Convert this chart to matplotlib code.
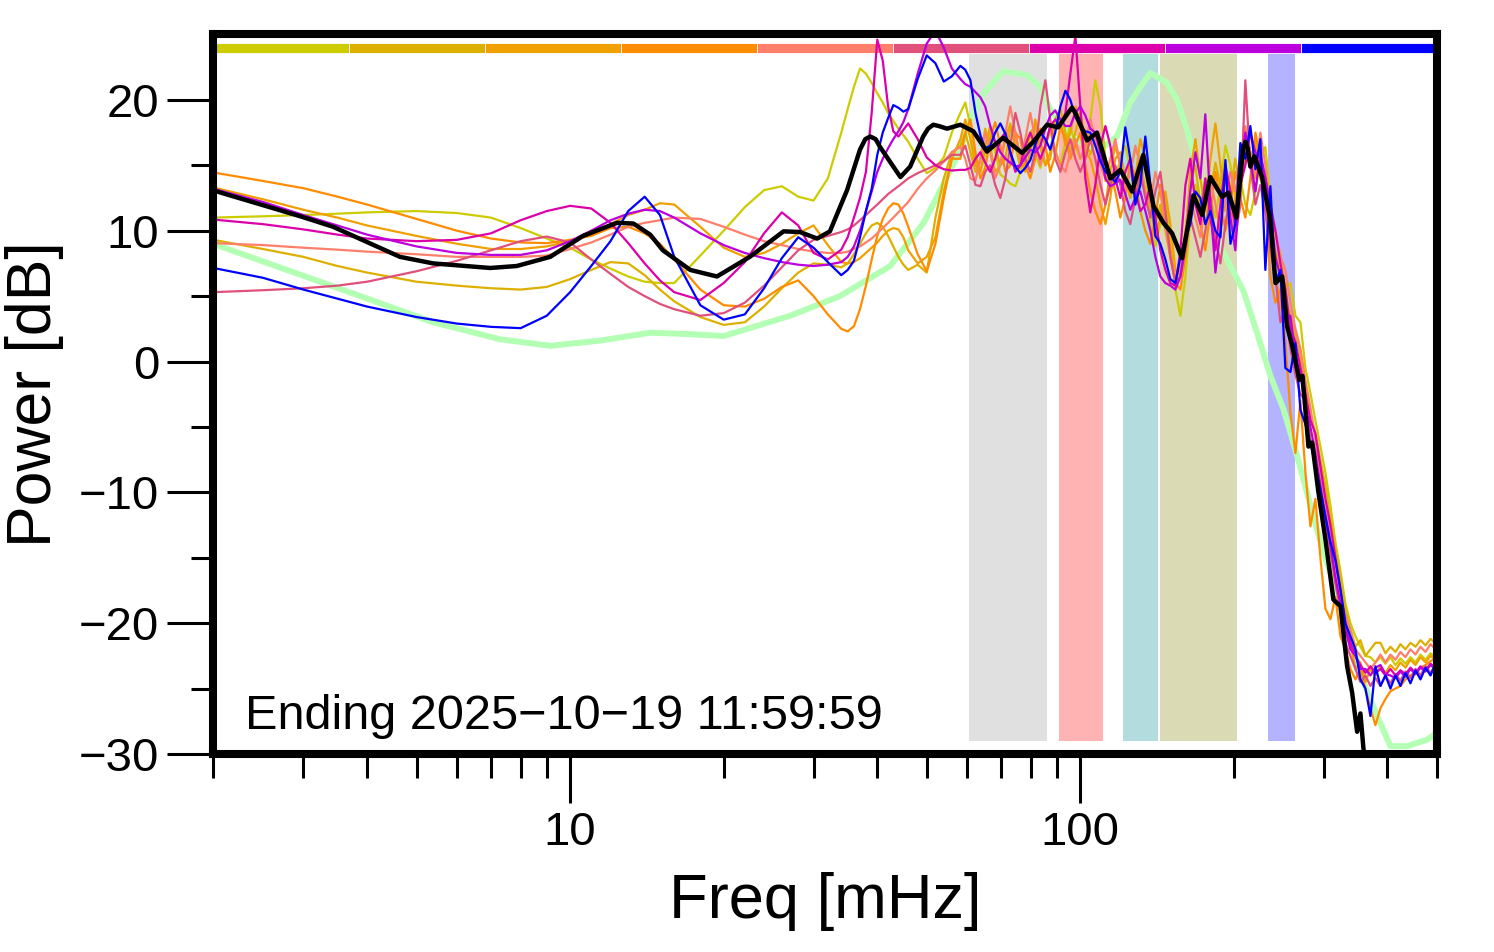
#!/usr/bin/env python3
# -*- coding: utf-8 -*-

"""
plot.py

Power spectra (dB) of nine consecutive segments, their mean (black) and a
reference spectrum (light green), on a log frequency axis in mHz.
Shaded bands mark frequency windows; the strip at the top gives the colour
of each segment.
"""

import numpy as np
import matplotlib
matplotlib.use("Agg")
import matplotlib.pyplot as plt
from matplotlib.patches import Rectangle
from matplotlib.ticker import FixedLocator, NullFormatter, LogLocator


# ---------------------------------------------------------------- data
# shared frequency grid (mHz) of the nine segment spectra
FREQ_LOW = [2, 2.5, 3, 3.5, 4, 5, 6, 7, 8, 9,
            10, 11, 12, 13, 14, 15, 16, 18, 20, 22,
            24, 26, 28, 30, 32, 34, 35, 36, 37, 38,
            39, 40, 41, 42, 43, 44, 45, 46, 48, 50,
            52, 54, 56]
FREQ_MID = [58.2, 59.5, 60.9, 62.3, 63.7, 65.1, 66.6, 68.1, 69.7, 71.3,
            72.9, 74.6, 76.3, 78.0, 79.8, 81.6, 83.5, 85.4, 87.3, 89.3,
            91.4, 93.5, 95.6, 97.8, 100.0, 102.3, 104.6, 107.0, 109.5, 112.0,
            114.5, 117.1, 119.8, 122.5, 125.3, 128.2, 131.1, 134.1, 137.2, 140.3,
            143.5, 146.8, 150.1, 153.6, 157.1, 160.7, 164.3, 168.1, 171.9, 175.8,
            179.9, 184.0, 188.2, 192.5, 196.9, 201.3, 205.9, 210.6, 215.4, 220.4,
            225.4, 230.5, 235.8, 241.2, 246.7, 252.3, 258.1, 264.0, 270.0, 276.2,
            282.5, 288.9, 295.5, 302.3, 309.2, 316.2, 323.5, 330.8, 338.4, 346.1,
            354.0, 362.1, 370.4]
FREQ_TAIL = [378.8, 387.5, 396.3, 405.4, 414.7, 424.1, 433.8, 443.7, 453.9, 464.2,
             474.9, 485.7, 496.8, 500.0]

SEG_COLORS = ["#cccc00", "#ddb000", "#f0a000", "#ff8c00", "#ff7f6a",
              "#e0507a", "#dd00aa", "#bb00dd", "#0000ff"]

# segment spectra, dB (low part / mid part / tail)
SEG1 = ([11.0, 11.1, 11.2, 11.3, 11.4, 11.5, 11.35, 11.0, 10.2, 9.4,
         8.7, 7.8, 7.1, 6.5, 6.1, 6.0, 6.0, 8.1, 10.0, 11.8,
         13.1, 13.4, 12.6, 12.3, 14.0, 17.5, 19.3, 21.0, 22.4, 22.0,
         21.3, 20.5, 19.8, 19.0, 18.4, 17.8, 17.3, 16.8, 15.5, 14.4,
         14.8, 15.6, 17.5],
        [19.0, 19.8, 18.0, 15.5, 14.5, 15.8, 17.5, 16.0, 14.3, 14.0,
         13.6, 13.4, 14.5, 16.8, 17.5, 15.8, 14.8, 16.5, 17.6, 16.2,
         15.0, 16.8, 18.0, 16.5, 15.5, 16.0, 18.5, 21.5, 19.5, 15.5,
         13.0, 14.0, 15.5, 16.5, 14.8, 12.5, 13.8, 15.0, 10.5, 8.8,
         10.5, 12.5, 9.0, 5.5, 3.5, 6.5, 11.0, 13.5, 12.0, 14.0,
         12.5, 11.0, 13.5, 16.5, 15.0, 12.5, 14.0, 12.0, 11.2, 13.0,
         15.5, 16.4, 12.5, 9.5, 8.3, 5.5, 6.0, 3.5, 3.0, -0.5,
         -2.4, -4.5, -6.5, -8.5, -11.0, -13.8, -16.0, -18.5, -20.0, -21.0,
         -21.8, -22.5, -22.6],
        [-23.0, -22.6, -23.1, -22.6, -23.2, -22.7, -23.1, -22.6, -23.0, -22.4,
         -22.8, -22.3, -22.6, -22.4])
SEG2 = ([9.3, 8.6, 8.0, 7.3, 6.8, 6.1, 5.8, 5.6, 5.5, 5.7,
         6.3, 7.0, 7.6, 7.5, 6.6, 5.5, 4.6, 3.4, 2.8, 3.0,
         4.2, 5.6, 6.8, 7.5, 7.4, 7.2, 7.5, 8.2, 9.0, 9.8,
         10.4, 10.6, 10.3, 9.6, 8.8, 8.0, 7.4, 7.0, 7.4, 6.8,
         11.0, 14.0, 16.0],
        [16.5, 17.5, 16.0, 14.5, 15.5, 17.8, 16.5, 14.5, 15.0, 17.0,
         18.2, 16.5, 14.8, 15.2, 17.5, 18.0, 16.3, 15.0, 16.0, 18.5,
         19.3, 17.5, 16.0, 17.5, 19.0, 17.0, 15.8, 17.0, 16.0, 13.8,
         14.5, 16.5, 15.0, 13.0, 14.5, 16.2, 15.5, 13.0, 11.5, 10.5,
         12.0, 10.0, 8.0, 6.0, 7.5, 10.0, 13.5, 15.0, 12.0, 10.5,
         13.0, 15.2, 13.5, 11.5, 13.0, 15.5, 13.0, 16.0, 15.0, 16.8,
         14.0, 12.5, 10.0, 8.5, 7.0, 5.0, 3.5, 2.0, 0.5, -2.0,
         -4.0, -5.5, -7.5, -9.5, -12.0, -14.5, -16.5, -19.0, -20.5, -21.8,
         -21.3, -22.5, -22.0],
        [-21.5, -21.5, -22.3, -21.8, -22.2, -21.6, -22.0, -21.5, -21.8, -21.3,
         -21.7, -21.2, -21.5, -21.1])
SEG3 = ([13.3, 12.4, 11.6, 11.0, 10.4, 9.6, 9.0, 8.6, 8.6, 8.8,
         9.2, 9.8, 10.5, 11.2, 11.6, 12.1, 12.0, 10.3, 8.7, 8.0,
         8.3, 9.0, 9.8, 10.4, 8.9, 7.6, 7.5, 7.6, 7.9, 8.3,
         8.7, 9.1, 9.6, 10.0, 10.2, 10.1, 9.5, 8.5, 7.5, 8.0,
         9.5, 13.0, 15.5],
        [17.0, 18.5, 17.0, 15.0, 14.5, 16.5, 18.0, 16.5, 15.0, 15.5,
         17.8, 17.5, 15.5, 14.5, 16.0, 18.5, 17.0, 15.0, 15.5, 18.0,
         18.5, 16.5, 17.5, 19.5, 18.0, 16.0, 15.5, 14.0, 12.0, 10.5,
         12.5, 15.5, 16.0, 14.0, 12.5, 14.0, 17.0, 15.5, 12.0, 9.5,
         11.0, 13.0, 10.5, 7.0, 6.5, 9.5, 14.5, 17.0, 14.0, 11.5,
         15.5, 18.2, 15.0, 12.0, 11.0, 12.5, 15.5, 17.5, 16.0, 14.0,
         16.0, 13.0, 9.5, 7.0, 4.0, 6.0, 2.0, 1.0, 0.0, -4.0,
         -6.0, -8.0, -9.0, -11.5, -14.5, -16.5, -18.5, -20.5, -21.5, -23.5,
         -23.0, -24.5, -23.5],
        [-24.0, -23.3, -23.8, -23.2, -23.6, -23.0, -23.4, -22.8, -23.2, -22.6,
         -23.0, -22.5, -22.8, -22.4])
SEG4 = ([14.45, 13.8, 13.25, 12.6, 12.0, 10.9, 10.0, 9.4, 9.1, 9.05,
         9.3, 9.6, 10.2, 10.3, 9.8, 9.0, 7.8, 5.5, 4.3, 4.2,
         4.8, 5.7, 6.2, 5.0, 3.6, 2.5, 2.3, 2.7, 4.0, 5.8,
         7.8, 9.6, 10.9, 11.7, 12.1, 12.0, 11.3, 10.3, 8.2, 6.9,
         9.0, 12.5, 15.5],
        [15.5, 17.5, 18.5, 16.0, 14.0, 14.8, 17.0, 18.3, 16.5, 14.5,
         15.0, 17.5, 17.0, 15.0, 14.0, 15.5, 17.8, 16.5, 14.5, 15.8,
         18.0, 17.0, 15.5, 16.5, 17.5, 15.0, 13.0, 11.5, 10.5, 12.0,
         14.5, 13.0, 11.0, 12.5, 15.5, 14.0, 11.5, 10.0, 9.0, 11.0,
         13.5, 11.5, 8.5, 6.0, 5.5, 8.0, 12.0, 13.0, 10.5, 8.5,
         11.5, 14.5, 12.5, 10.0, 12.0, 14.5, 12.5, 11.0, 14.0, 17.5,
         15.5, 12.0, 6.5, 4.5, 5.5, 1.5, -3.9, -7.0, -3.0, -8.5,
         -12.6, -10.5, -15.0, -18.9, -19.7, -18.0, -21.0, -22.0, -23.5, -24.3,
         -23.5, -25.0, -26.5],
        [-27.8, -26.5, -25.8, -25.2, -25.0, -24.8, -24.3, -24.0, -23.8, -23.4,
         -23.2, -22.9, -22.7, -22.6])
SEG5 = ([9.05, 8.9, 8.7, 8.55, 8.4, 8.2, 8.0, 8.0, 8.0, 8.1,
         8.6, 9.1, 9.7, 10.3, 10.6, 10.8, 11.0, 10.9, 10.3, 9.7,
         9.2, 8.9, 8.6, 8.4, 8.3, 8.3, 8.4, 8.6, 8.8, 9.1,
         9.4, 9.8, 10.2, 10.6, 11.0, 11.4, 11.8, 12.2, 13.2, 14.0,
         14.6, 15.3, 16.0],
        [16.4, 15.5, 14.0, 13.8, 15.5, 17.5, 16.0, 14.0, 15.0, 17.5,
         19.5, 17.5, 15.5, 17.0, 19.0, 17.0, 15.0, 16.5, 18.0, 16.0,
         15.0, 14.5, 16.0, 17.0, 15.5, 16.5, 18.5, 17.0, 15.0, 14.0,
         15.5, 17.0, 15.0, 13.0, 14.5, 16.5, 15.0, 13.0, 12.0, 14.5,
         13.0, 10.5, 8.0, 6.5, 7.0, 9.5, 12.5, 11.0, 9.5, 12.0,
         14.0, 12.0, 10.0, 12.5, 14.5, 13.0, 15.0, 18.0, 16.0, 14.5,
         17.5, 15.0, 11.5, 10.0, 8.0, 7.0, 4.5, 2.5, 1.0, -1.5,
         -3.5, -6.0, -8.5, -10.5, -13.5, -15.5, -18.0, -19.5, -20.5, -22.0,
         -22.5, -23.0, -23.5],
        [-23.0, -22.4, -23.0, -22.4, -22.8, -22.2, -22.6, -22.0, -22.4, -21.8,
         -22.2, -21.6, -22.0, -21.6])
SEG6 = ([5.3, 5.45, 5.6, 5.8, 6.1, 6.9, 7.7, 8.5, 9.2, 9.55,
         9.1, 7.8, 6.7, 5.7, 5.0, 4.4, 4.0, 3.5, 3.7, 4.5,
         5.8, 7.2, 8.5, 9.3, 9.6, 9.9, 10.1, 10.4, 10.8, 11.2,
         11.6, 12.0, 12.4, 12.8, 13.1, 13.4, 13.7, 14.0, 14.4, 14.7,
         15.0, 15.3, 15.8],
        [15.8, 16.5, 15.0, 13.5, 13.4, 14.5, 15.0, 13.5, 12.5, 14.0,
         16.5, 19.0, 17.5, 15.5, 14.5, 16.0, 19.5, 21.5, 18.5, 15.5,
         14.5, 16.0, 17.0, 15.5, 14.5, 15.5, 17.0, 15.5, 13.5, 12.0,
         13.5, 15.0, 13.5, 11.5, 10.5, 12.5, 14.5, 12.5, 11.0, 13.0,
         14.5, 11.5, 8.0, 6.0, 6.5, 8.5, 11.0, 9.5, 8.0, 10.0,
         12.5, 9.5, 7.5, 10.5, 13.0, 9.5, 12.0, 21.5, 15.0, 12.0,
         13.5, 11.5, 8.5, 6.5, 3.0, 4.0, 1.0, -1.0, -2.5, -3.0,
         -6.0, -8.0, -10.0, -12.0, -14.5, -17.0, -19.0, -21.5, -22.5, -23.5,
         -24.5, -24.0, -24.8],
        [-24.2, -24.8, -24.0, -24.6, -23.9, -24.4, -23.7, -24.2, -23.5, -24.0,
         -23.3, -23.8, -23.2, -23.5])
SEG7 = ([10.85, 10.5, 10.1, 9.7, 9.4, 9.2, 9.3, 9.8, 10.8, 11.5,
         11.9, 11.7, 10.6, 9.05, 7.5, 6.2, 5.3, 4.7, 6.0, 7.6,
         9.8, 11.4, 10.4, 8.3, 7.8, 8.55, 9.5, 11.0, 12.5, 14.5,
         19.0, 24.6, 23.0, 19.5, 17.6, 17.2, 17.7, 18.2, 17.0, 15.6,
         15.0, 14.7, 14.6],
        [14.65, 14.65, 14.8, 15.5, 16.0, 15.2, 14.5, 15.5, 17.0, 17.5,
         16.0, 14.5, 15.0, 16.5, 17.5, 16.5, 15.5, 16.5, 18.0, 18.5,
         18.0, 19.0, 22.0, 24.9, 19.5, 14.0, 11.4, 13.5, 16.5, 18.0,
         16.5, 14.0, 12.5, 14.5, 15.5, 13.0, 11.5, 12.0, 13.5, 11.0,
         8.5, 7.0, 6.0, 5.8, 8.5, 13.5, 15.5, 12.0, 10.5, 14.0,
         11.0, 8.5, 12.0, 15.0, 13.0, 10.5, 13.5, 15.0, 17.5, 16.0,
         15.5, 14.0, 12.0, 10.0, 7.5, 5.5, 2.5, 1.5, -0.5, -2.5,
         -4.5, -5.5, -8.0, -10.5, -12.5, -15.0, -17.5, -20.0, -21.5, -22.5,
         -23.2, -23.8, -23.3],
        [-23.8, -23.5, -24.0, -23.5, -24.0, -23.6, -23.9, -23.4, -23.8, -23.3,
         -23.6, -23.1, -23.4, -23.2])
SEG8 = ([13.2, 12.2, 11.2, 10.4, 9.7, 8.8, 8.3, 8.15, 8.15, 8.5,
         9.2, 10.0, 10.8, 11.3, 11.6, 11.5, 11.0, 9.8, 8.9, 8.3,
         7.9, 7.6, 7.4, 7.3, 7.4, 7.6, 8.0, 8.8, 10.0, 11.5,
         13.0, 14.5, 15.5, 16.3, 17.0, 17.6, 18.3, 19.3, 22.0, 24.3,
         25.3, 24.0, 22.4],
        [21.6, 21.2, 21.0, 20.6, 20.2, 19.5, 18.0, 16.8, 16.0, 15.5,
         15.2, 14.9, 15.0, 15.6, 16.2, 16.0, 16.5, 17.8, 18.8, 19.2,
         18.5, 18.0, 18.0, 19.0, 19.5, 18.8, 17.8, 17.5, 16.0, 14.0,
         13.4, 13.6, 13.9, 12.8, 11.6, 12.5, 13.0, 11.5, 10.0, 8.0,
         6.5, 6.0, 5.8, 5.5, 6.5, 9.0, 13.0, 16.0, 14.0, 18.9,
         12.0, 6.8, 10.0, 14.5, 11.0, 8.5, 14.0, 17.5, 15.5, 13.0,
         16.0, 14.0, 11.5, 8.0, 6.5, 3.0, 3.5, 0.5, -1.0, -3.5,
         -5.0, -7.0, -9.5, -12.0, -14.0, -16.5, -18.5, -20.5, -22.0, -22.5,
         -23.5, -23.5, -24.0],
        [-23.4, -23.2, -23.9, -24.0, -24.2, -23.7, -24.1, -23.5, -23.9, -23.4,
         -23.7, -23.2, -23.5, -23.3])
SEG9 = ([7.15, 6.4, 5.5, 4.8, 4.2, 3.4, 2.9, 2.65, 2.55, 3.5,
         5.3, 7.3, 9.2, 11.5, 12.6, 11.2, 8.0, 4.3, 3.2, 3.6,
         5.6, 7.9, 9.5, 8.7, 7.6, 6.6, 7.0, 7.7, 9.5, 11.5,
         13.2, 15.8, 17.5, 18.6, 19.6, 19.4, 19.1, 19.3, 21.6, 23.4,
         22.8, 21.4, 21.8],
        [22.6, 22.3, 21.5, 19.0, 17.3, 16.3, 16.5, 17.5, 18.2, 17.4,
         16.0, 14.9, 14.4, 14.8, 15.4, 16.6, 17.5, 17.0, 16.2, 17.5,
         19.5, 20.7, 20.0, 18.7, 18.0, 17.6, 17.5, 16.5, 15.3, 14.5,
         14.2, 13.7, 14.5, 17.9, 15.5, 12.0, 13.5, 17.2, 13.5, 9.6,
         9.0, 7.8, 6.3, 6.0, 8.0, 9.5, 10.5, 13.0, 12.5, 10.5,
         11.5, 10.0, 9.5, 15.4, 9.0, 10.5, 16.7, 15.5, 18.0, 14.7,
         17.0, 7.0, 13.4, 6.0, 7.0, -0.5, -0.8, 1.4, -3.7, -4.8,
         -6.3, -7.8, -9.8, -11.8, -13.8, -15.2, -17.4, -20.0, -21.0, -22.0,
         -24.3, -25.0, -27.1],
        [-23.3, -24.8, -24.0, -25.0, -24.0, -24.8, -23.8, -24.6, -23.6, -24.3,
         -23.4, -24.0, -23.1, -23.2])

# mean spectrum (black)
MEAN_FREQ = [2.03, 2.96, 3.43, 4.64, 5.39, 6.97, 7.86, 9.14, 10.6, 12.35,
             13.3, 14.35, 15.2, 17.2, 19.4, 22.5, 26.2, 28.2, 30.5, 32.3,
             34.9, 37.0, 37.9, 38.75, 39.7, 40.5, 44.4, 46.4, 49.2, 50.3,
             51.5, 52.8, 54.8, 58.2, 61.7, 65.6, 70.6, 76.9, 80.9, 86.1,
             90.5, 95.0, 96.3, 97.8, 103.1, 107.8, 114.5, 119.8, 126.3, 132.9,
             139.1, 145.5, 151.3, 158.3, 166.6, 173.3, 179.8, 189.6, 195.1, 202.3,
             208.5, 210.6, 212.8, 215.4, 219.4, 227.1, 235.8, 241.3, 248.7, 254.3,
             260.2, 268.7, 272.6, 280.0, 284.7, 292.9, 302.3, 313.4, 323.5, 333.4,
             341.0, 348.8, 354.0, 358.9, 370.4]
MEAN_DB = [13.0, 11.1, 10.3, 8.0, 7.5, 7.15, 7.3, 8.0, 9.6, 10.6,
           10.55, 9.7, 8.5, 7.0, 6.5, 8.0, 9.95, 9.9, 9.4, 9.95,
           13.1, 16.2, 17.0, 17.2, 17.0, 16.4, 14.1, 14.9, 17.2, 17.8,
           18.1, 18.0, 17.8, 18.1, 17.6, 16.05, 17.1, 15.95, 16.8, 18.1,
           17.9, 19.1, 19.4, 19.0, 16.9, 17.5, 14.0, 14.65, 13.0, 15.8,
           11.9, 10.6, 9.8, 7.9, 12.7, 11.2, 14.1, 12.6, 12.9, 11.0,
           16.3, 16.8, 16.3, 14.9, 15.7, 14.1, 10.8, 6.0, 6.5, 2.7,
           1.2, -1.4, -1.1, -6.5, -6.2, -10.0, -13.6, -18.2, -18.7, -23.3,
           -25.3, -28.3, -26.9, -29.6, -33.0]

# reference spectrum (light green)
REF_FREQ = [2.03, 3.43, 5.39, 7.29, 9.14, 11.45, 14.35, 17.0, 20.0, 27.0,
            33.8, 42.4, 49.3, 53.2, 58.2, 60.9, 64.6, 70.6, 78.6, 83.5,
            87.4, 92.6, 98.5, 104.6, 110.9, 118.0, 125.3, 131.1, 137.2, 147.9,
            154.7, 161.9, 169.3, 177.2, 188.2, 196.9, 208.8, 222.0, 235.8, 250.0,
            266.0, 282.5, 299.6, 318.7, 338.4, 358.8, 381.8, 405.4, 437.1, 478.3,
            500.0]
REF_DB = [8.9, 5.75, 3.0, 1.7, 1.2, 1.6, 2.2, 2.1, 1.95, 3.5,
          5.0, 7.3, 10.6, 13.1, 16.2, 18.5, 20.5, 22.2, 21.9, 21.0,
          19.2, 18.0, 16.9, 16.4, 16.4, 17.2, 19.8, 21.0, 22.05, 21.3,
          20.0, 17.7, 14.9, 11.6, 8.8, 7.3, 5.4, 2.2, -1.1, -3.6,
          -7.2, -11.0, -14.6, -17.7, -21.0, -24.5, -27.1, -29.4, -29.4, -28.9,
          -28.4]

# shaded frequency windows (mHz)
BAND_LO = [60.5, 91.0, 121.0, 143.5, 233.0]
BAND_HI = [86.0, 111.0, 142.0, 203.0, 264.0]
BAND_COLORS = ["#e0e0e0", "#ffb3b3", "#b3dcdf", "#dadab5", "#b3b3ff"]

TITLE_TEXT = "Ending 2025\u221210\u221219 11:59:59"


def main():
    plt.rcParams["font.family"] = ["Liberation Sans", "DejaVu Sans"]

    fig = plt.figure(figsize=(14.94, 9.52), dpi=100)
    ax = fig.add_axes([0.1429, 0.2080, 0.8189, 0.7558])

    freq = np.array(FREQ_LOW + FREQ_MID + FREQ_TAIL)

    # bands, behind everything
    for lo, hi, c in zip(BAND_LO, BAND_HI, BAND_COLORS):
        ax.add_patch(Rectangle((lo, -29.0), hi - lo, 52.6, facecolor=c,
                               edgecolor="none", zorder=1))

    # colour strip of the segments
    edges = np.geomspace(2, 500, len(SEG_COLORS) + 1)
    for i, c in enumerate(SEG_COLORS):
        ax.add_patch(Rectangle((edges[i], 23.6), edges[i + 1] - edges[i], 0.75,
                               facecolor=c, edgecolor="#ffffff", lw=0.6,
                               zorder=1.5))

    ax.plot(REF_FREQ, REF_DB, color="#b3ffb3", lw=4.3, zorder=2,
            solid_capstyle="round", solid_joinstyle="round")

    segs = [SEG1, SEG2, SEG3, SEG4, SEG5, SEG6, SEG7, SEG8, SEG9]
    for seg, c in zip(segs, SEG_COLORS):
        y = np.array(seg[0] + seg[1] + seg[2])
        ax.plot(freq, y, color=c, lw=1.6, zorder=3, solid_joinstyle="round")

    ax.plot(MEAN_FREQ, MEAN_DB, color="black", lw=3.2, zorder=4,
            solid_joinstyle="round")

    ax.text(0.026, 0.035, TITLE_TEXT, transform=ax.transAxes, fontsize=35,
            ha="left", va="baseline", zorder=5)

    # axes
    ax.set_xscale("log")
    ax.set_xlim(2, 500)
    ax.set_ylim(-30, 25)

    ax.xaxis.set_major_locator(FixedLocator([10, 100]))
    ax.set_xticklabels(["10", "100"])
    ax.xaxis.set_minor_locator(LogLocator(base=10, subs=np.arange(2, 10)))
    ax.xaxis.set_minor_formatter(NullFormatter())
    ax.set_yticks([-30, -20, -10, 0, 10, 20])
    ax.set_yticks([-25, -15, -5, 5, 15], minor=True)

    ax.tick_params(axis="both", which="both", direction="out", width=2.2,
                   color="black", labelsize=34)
    ax.tick_params(axis="y", which="major", length=33, pad=6)
    ax.tick_params(axis="y", which="minor", length=15.5)
    ax.tick_params(axis="x", which="major", length=35, pad=6)
    ax.tick_params(axis="x", which="minor", length=17)

    for sp in ax.spines.values():
        sp.set_linewidth(5.8)
        sp.set_zorder(6)

    ax.set_xlabel("Freq [mHz]", fontsize=45.5)
    ax.set_ylabel("Power [dB]", fontsize=45)
    ax.xaxis.set_label_coords(0.5, -0.164)
    ax.yaxis.set_label_coords(-0.122, 0.5)

    fig.savefig("out.png", dpi=100)


if __name__ == "__main__":
    main()
